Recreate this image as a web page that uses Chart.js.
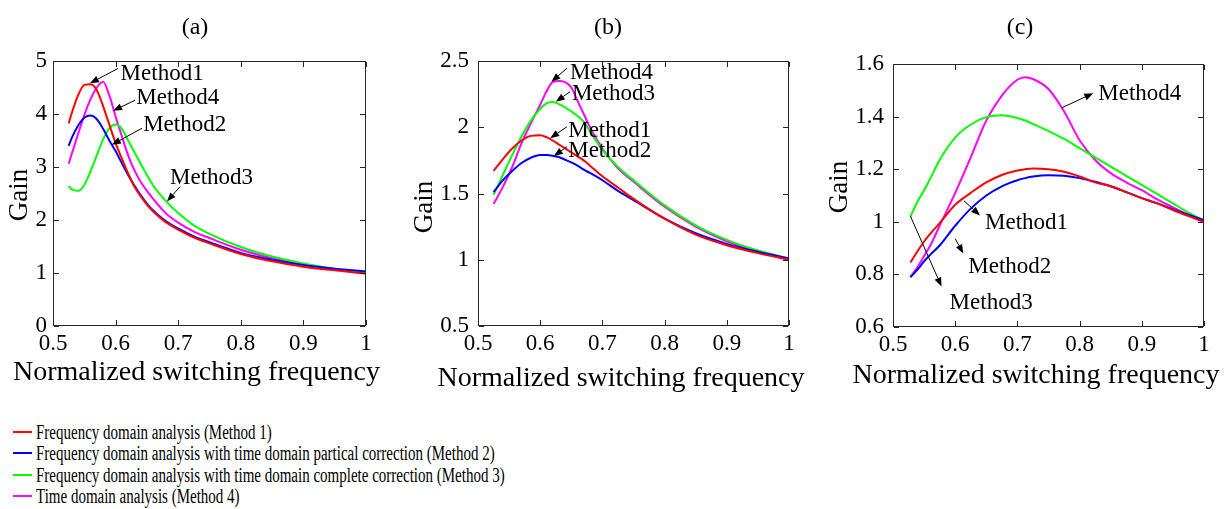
<!DOCTYPE html>
<html lang="en">
<head>
<meta charset="UTF-8">
<title>Gain vs normalized switching frequency</title>
<script src="https://cdn.jsdelivr.net/npm/chart.js"></script>
<style>
  body { margin: 0; background: #fff; width: 1228px; height: 509px; position: relative; overflow: hidden; font-family: "Liberation Serif", "Times New Roman", serif; }
  canvas { position: absolute; top: 0; }
  #legend { position: absolute; left: 13px; top: 421px; }
  .row { position: absolute; left: 0; height: 22px; white-space: nowrap; }
  .row i { position: absolute; left: 0; top: 10px; width: 19px; height: 2px; }
  .row span { position: absolute; left: 23px; top: 0; font-size: 20px; line-height: 22px; color: #000; transform: scaleX(0.75); transform-origin: left center; }
</style>
</head>
<body>
<canvas id="chartA" width="400" height="400" style="left:0px"></canvas>
<canvas id="chartB" width="420" height="400" style="left:400px"></canvas>
<canvas id="chartC" width="408" height="400" style="left:820px"></canvas>
<div id="legend"></div>
<script>
// tick labels
const xTicks = [0.5, 0.6, 0.7, 0.8, 0.9, 1];
const yTicksA = [0, 1, 2, 3, 4, 5];
const yTicksB = [0.5, 1, 1.5, 2, 2.5];
const yTicksC = [0.6, 0.8, 1, 1.2, 1.4, 1.6];

const xLabel = 'Normalized switching frequency';
const yLabel = 'Gain';
const legendLabels = [
    'Frequency domain analysis (Method 1)',
    'Frequency domain analysis with time domain partical correction (Method 2)',
    'Frequency domain analysis with time domain complete correction (Method 3)',
    'Time domain analysis (Method 4)'
];
const colors = ['#ff0000', '#0000ff', '#00ff00', '#ff00ff'];

// panel (a)
const freqA = [0.525, 0.53, 0.54, 0.55, 0.56, 0.57, 0.58, 0.59, 0.60, 0.61, 0.62, 0.63, 0.64, 0.65, 0.66, 0.68, 0.70, 0.725, 0.75, 0.80, 0.85, 0.90, 0.95, 1.0];
const gainA1 = [3.82, 4.02, 4.35, 4.55, 4.56, 4.45, 4.15, 3.80, 3.45, 3.16, 2.88, 2.63, 2.45, 2.29, 2.16, 1.96, 1.82, 1.67, 1.56, 1.36, 1.22, 1.12, 1.05, 0.99];
const gainA2 = [3.40, 3.55, 3.78, 3.93, 3.97, 3.90, 3.72, 3.50, 3.30, 3.07, 2.85, 2.65, 2.47, 2.31, 2.18, 1.98, 1.84, 1.69, 1.58, 1.38, 1.25, 1.15, 1.08, 1.03];
const gainA3 = [2.64, 2.58, 2.55, 2.66, 2.92, 3.22, 3.52, 3.73, 3.80, 3.72, 3.50, 3.28, 3.06, 2.85, 2.65, 2.36, 2.13, 1.90, 1.74, 1.49, 1.31, 1.18, 1.08, 1.00];
const gainA4 = [3.06, 3.25, 3.62, 3.98, 4.28, 4.50, 4.61, 4.35, 3.95, 3.58, 3.22, 2.94, 2.72, 2.55, 2.40, 2.13, 1.95, 1.78, 1.66, 1.44, 1.28, 1.16, 1.07, 0.99];

// panel (b)
const freqB = [0.525, 0.54, 0.555, 0.57, 0.585, 0.60, 0.61, 0.62, 0.63, 0.64, 0.65, 0.66, 0.67, 0.68, 0.70, 0.725, 0.75, 0.80, 0.85, 0.90, 0.95, 1.0];
const gainB1 = [1.67, 1.76, 1.84, 1.90, 1.935, 1.94, 1.925, 1.90, 1.87, 1.84, 1.81, 1.78, 1.75, 1.71, 1.63, 1.545, 1.46, 1.31, 1.19, 1.11, 1.05, 1.0];
const gainB2 = [1.51, 1.60, 1.67, 1.73, 1.77, 1.79, 1.79, 1.785, 1.775, 1.755, 1.735, 1.71, 1.68, 1.655, 1.60, 1.52, 1.45, 1.31, 1.20, 1.12, 1.06, 1.01];
const gainB3 = [1.49, 1.64, 1.79, 1.93, 2.05, 2.14, 2.18, 2.19, 2.175, 2.15, 2.12, 2.085, 2.04, 1.97, 1.83, 1.70, 1.60, 1.41, 1.26, 1.15, 1.07, 1.01];
const gainB4 = [1.42, 1.55, 1.70, 1.88, 2.03, 2.17, 2.27, 2.34, 2.35, 2.34, 2.30, 2.20, 2.10, 2.00, 1.84, 1.69, 1.59, 1.40, 1.25, 1.14, 1.06, 1.0];

// panel (c)
const freqC = [0.528, 0.54, 0.55, 0.56, 0.575, 0.60, 0.625, 0.65, 0.675, 0.70, 0.7125, 0.725, 0.75, 0.775, 0.80, 0.825, 0.85, 0.875, 0.90, 0.925, 0.95, 0.975, 1.0];
const gainC1 = [0.845, 0.89, 0.925, 0.955, 0.995, 1.065, 1.11, 1.15, 1.178, 1.195, 1.20, 1.203, 1.20, 1.19, 1.172, 1.15, 1.135, 1.113, 1.09, 1.07, 1.045, 1.022, 1.0];
const gainC2 = [0.789, 0.82, 0.85, 0.875, 0.91, 0.985, 1.05, 1.10, 1.135, 1.158, 1.166, 1.172, 1.177, 1.175, 1.166, 1.152, 1.135, 1.113, 1.09, 1.07, 1.048, 1.027, 1.006];
const gainC3 = [1.02, 1.08, 1.12, 1.165, 1.235, 1.32, 1.37, 1.398, 1.405, 1.395, 1.385, 1.372, 1.345, 1.315, 1.28, 1.245, 1.21, 1.175, 1.14, 1.105, 1.07, 1.035, 1.005];
const gainC4 = [0.79, 0.83, 0.87, 0.91, 0.985, 1.11, 1.245, 1.385, 1.48, 1.54, 1.55, 1.543, 1.505, 1.42, 1.31, 1.235, 1.185, 1.15, 1.12, 1.085, 1.055, 1.025, 0.998];

// arrow labels, in data units: text anchor, arrow tail, arrow tip
const notesA = [
    { text: 'Method1', tx: 0.608, ty: 4.75, fx: 0.604, fy: 4.86, ax: 0.559, ay: 4.58 },
    { text: 'Method4', tx: 0.633, ty: 4.30, fx: 0.631, fy: 4.26, ax: 0.596, ay: 4.06 },
    { text: 'Method2', tx: 0.644, ty: 3.79, fx: 0.642, fy: 3.73, ax: 0.594, ay: 3.42 },
    { text: 'Method3', tx: 0.687, ty: 2.79, fx: 0.703, fy: 2.63, ax: 0.682, ay: 2.35 }
];
const notesB = [
    { text: 'Method4', tx: 0.648, ty: 2.41, fx: 0.643, fy: 2.445, ax: 0.618, ay: 2.344 },
    { text: 'Method3', tx: 0.651, ty: 2.249, fx: 0.648, fy: 2.268, ax: 0.625, ay: 2.193 },
    { text: 'Method1', tx: 0.645, ty: 1.972, fx: 0.643, fy: 2.004, ax: 0.616, ay: 1.917 },
    { text: 'Method2', tx: 0.645, ty: 1.821, fx: 0.643, fy: 1.853, ax: 0.622, ay: 1.783 }
];
const notesC = [
    { text: 'Method4', tx: 0.830, ty: 1.486, fx: 0.771, fy: 1.433, ax: 0.822, ay: 1.489 },
    { text: 'Method1', tx: 0.648, ty: 0.995, fx: 0.614, fy: 1.080, ax: 0.640, ay: 1.024 },
    { text: 'Method2', tx: 0.621, ty: 0.829, fx: 0.600, fy: 0.936, ax: 0.613, ay: 0.879 },
    { text: 'Method3', tx: 0.591, ty: 0.691, fx: 0.528, fy: 1.0215, ax: 0.578, ay: 0.754 }
];

const serif = '"Liberation Serif", "Times New Roman", serif';
Chart.defaults.font.family = serif;
Chart.defaults.color = '#000';

// box with inward ticks, titles, axis labels and arrow notes
const decorPlugin = {
    id: 'decor',
    afterDraw(chart, args, opts) {
        const ctx = chart.ctx;
        const a = chart.chartArea;
        const xs = chart.scales.x, ys = chart.scales.y;
        ctx.save();
        // frame, drawn as 1px filled strips
        ctx.fillStyle = '#262626';
        const L = Math.round(a.left), R = Math.round(a.right) - 1;
        const T = Math.round(a.top), B = Math.round(a.bottom) - 1;
        ctx.fillRect(L, T, R - L + 1, 1);
        ctx.fillRect(L, B, R - L + 1, 1);
        ctx.fillRect(L, T, 1, B - T + 1);
        ctx.fillRect(R, T, 1, B - T + 1);
        xs.ticks.forEach(t => {
            const px = Math.round(xs.getPixelForValue(t.value));
            ctx.fillRect(px, B - 5, 1, 5);
            ctx.fillRect(px, T + 1, 1, 5);
        });
        ys.ticks.forEach(t => {
            const py = Math.round(ys.getPixelForValue(t.value));
            ctx.fillRect(L + 1, py, 5, 1);
            ctx.fillRect(R - 5, py, 5, 1);
        });

        ctx.fillStyle = '#000';
        ctx.strokeStyle = '#000';
        ctx.lineWidth = 1;
        // panel title
        ctx.font = '24px ' + serif;
        ctx.textAlign = 'center';
        ctx.textBaseline = 'middle';
        ctx.fillText(opts.title, opts.titleX, opts.titleY);
        // x label
        ctx.font = '28px ' + serif;
        ctx.textBaseline = 'alphabetic';
        ctx.fillText(xLabel, opts.xLabelX, opts.xLabelY);
        // y label
        ctx.save();
        ctx.font = '27px ' + serif;
        ctx.textBaseline = 'middle';
        ctx.translate(opts.yLabelX, opts.yLabelY);
        ctx.rotate(-Math.PI / 2);
        ctx.fillText(yLabel, 0, 0);
        ctx.restore();

        // notes with arrows
        ctx.font = '23px ' + serif;
        ctx.textAlign = 'left';
        ctx.textBaseline = 'middle';
        (opts.items || []).forEach(n => {
            const x0 = xs.getPixelForValue(n.fx), y0 = ys.getPixelForValue(n.fy);
            const x1 = xs.getPixelForValue(n.ax), y1 = ys.getPixelForValue(n.ay);
            const ang = Math.atan2(y1 - y0, x1 - x0);
            const hl = 9, hw = 3.5;
            const bx = x1 - hl * Math.cos(ang), by = y1 - hl * Math.sin(ang);
            ctx.beginPath();
            ctx.moveTo(x0, y0); ctx.lineTo(bx, by);
            ctx.stroke();
            ctx.beginPath();
            ctx.moveTo(x1, y1);
            ctx.lineTo(bx + hw * Math.sin(ang), by - hw * Math.cos(ang));
            ctx.lineTo(bx - hw * Math.sin(ang), by + hw * Math.cos(ang));
            ctx.closePath();
            ctx.fill();
            ctx.fillText(n.text, xs.getPixelForValue(n.tx), ys.getPixelForValue(n.ty));
        });
        ctx.restore();
    }
};

function series(freq, gains) {
    return gains.map((g, i) => ({
        data: freq.map((f, k) => ({ x: f, y: g[k] })),
        borderColor: colors[i],
        borderWidth: 2,
        pointRadius: 0,
        cubicInterpolationMode: 'monotone',
        fill: false
    }));
}

function makePanel(id, cfg) {
    new Chart(document.getElementById(id), {
        type: 'line',
        data: { datasets: series(cfg.freq, cfg.gains) },
        options: {
            responsive: false,
            animation: false,
            layout: { padding: { left: 0, right: cfg.padRight, top: cfg.padTop, bottom: 0 } },
            plugins: {
                legend: { display: false },
                tooltip: { enabled: false },
                title: { display: false },
                decor: cfg.decor
            },
            scales: {
                x: {
                    type: 'linear', min: 0.5, max: 1,
                    afterBuildTicks: s => { s.ticks = xTicks.map(v => ({ value: v })); },
                    afterFit: s => { s.height = cfg.xHeight; },
                    grid: { display: false, drawTicks: false },
                    border: { display: false },
                    ticks: { font: { size: 23 }, padding: 4, color: '#000', callback: v => String(v) }
                },
                y: {
                    min: cfg.yMin, max: cfg.yMax,
                    afterBuildTicks: s => { s.ticks = cfg.yTicks.map(v => ({ value: v })); },
                    afterFit: s => { s.width = cfg.yWidth; },
                    grid: { display: false, drawTicks: false },
                    border: { display: false },
                    ticks: { font: { size: 23 }, padding: cfg.yTickPad, color: '#000', callback: v => String(v) }
                }
            }
        },
        plugins: [decorPlugin]
    });
}

makePanel('chartA', {
    freq: freqA, gains: [gainA1, gainA2, gainA3, gainA4],
    yMin: 0, yMax: 5, yTicks: yTicksA,
    padTop: 61, padRight: 34, xHeight: 74, yWidth: 53, yTickPad: 6,
    decor: { title: '(a)', titleX: 195, titleY: 28, xLabelX: 196.5, xLabelY: 380, yLabelX: 20, yLabelY: 195, items: notesA }
});
makePanel('chartB', {
    freq: freqB, gains: [gainB1, gainB2, gainB3, gainB4],
    yMin: 0.5, yMax: 2.5, yTicks: yTicksB,
    padTop: 61, padRight: 31, xHeight: 74, yWidth: 78, yTickPad: 9,
    decor: { title: '(b)', titleX: 208, titleY: 28, xLabelX: 221, xLabelY: 386, yLabelX: 25, yLabelY: 207, items: notesB }
});
makePanel('chartC', {
    freq: freqC, gains: [gainC1, gainC2, gainC3, gainC4],
    yMin: 0.6, yMax: 1.6, yTicks: yTicksC,
    padTop: 64, padRight: 24, xHeight: 73, yWidth: 73, yTickPad: 9,
    decor: { title: '(c)', titleX: 200, titleY: 28, xLabelX: 216, xLabelY: 383, yLabelX: 20, yLabelY: 187, items: notesC }
});

// legend below the panels
const legend = document.getElementById('legend');
const rowTops = [0, 21, 43, 64];
legendLabels.forEach((label, i) => {
    const row = document.createElement('div');
    row.className = 'row';
    row.style.top = rowTops[i] + 'px';
    const line = document.createElement('i');
    line.style.background = colors[i];
    const text = document.createElement('span');
    text.textContent = label;
    row.appendChild(line);
    row.appendChild(text);
    legend.appendChild(row);
});
</script>
</body>
</html>
